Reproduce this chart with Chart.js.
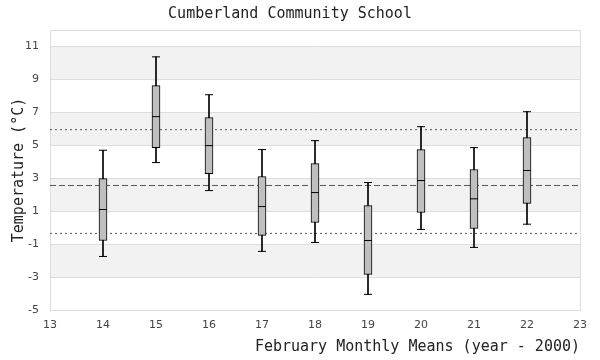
<!DOCTYPE html>
<html>
<head>
<meta charset="utf-8">
<script src="https://cdn.jsdelivr.net/npm/chart.js@4/dist/chart.umd.min.js"></script>
<style>
  html, body { margin: 0; padding: 0; background: #fff; }
  #wrap { width: 600px; height: 360px; }
</style>
</head>
<body>
<div id="wrap"><canvas id="c" width="600" height="360"></canvas></div>
<script>
// ---- data ----
const years       = [14, 15, 16, 17, 18, 19, 20, 21, 22];
const whiskerLow  = [-1.75, 3.95, 2.25, -1.44, -0.90, -4.05, -0.11, -1.20, 0.21];
const q1          = [-0.78, 4.86, 3.28, -0.47, 0.31, -2.84, 0.92, -0.05, 1.47];
const median      = [1.10, 6.74, 4.98, 1.28, 2.13, -0.78, 2.86, 1.75, 3.47];
const q3          = [2.98, 8.62, 6.68, 3.10, 3.89, 1.34, 4.74, 3.53, 5.47];
const whiskerHigh = [4.70, 10.37, 8.07, 4.74, 5.28, 2.74, 6.13, 4.86, 7.04];
const overallMean = 2.56;
const upperBound  = 5.95;
const lowerBound  = -0.35;
const xTicks = [13, 14, 15, 16, 17, 18, 19, 20, 21, 22, 23];
const yTicks = [-5, -3, -1, 1, 3, 5, 7, 9, 11];
const shadedBands = [[9, 11], [5, 7], [1, 3], [-3, -1]];
const xRange = [13, 23];
const yRange = [-5, 12];

const MONO = '"DejaVu Sans Mono", monospace';
const SANS = '"DejaVu Sans", sans-serif';

const bandPlugin = {
  id: 'bands',
  beforeDraw(chart) {
    const { ctx, chartArea: a, scales: { y } } = chart;
    ctx.save();
    ctx.fillStyle = '#f2f2f2';
    shadedBands.forEach(([lo, hi]) => {
      const top = y.getPixelForValue(hi);
      const bot = y.getPixelForValue(lo);
      ctx.fillRect(a.left, top, a.right - a.left, bot - top);
    });
    ctx.restore();
  }
};

const hline = (v, dash) => ({
  type: 'line',
  data: xRange.map(x => ({ x, y: v })),
  borderColor: '#555',
  borderWidth: 1,
  borderDash: dash,
  pointRadius: 0,
  fill: false,
  order: 5
});

new Chart(document.getElementById('c'), {
  type: 'bar',
  data: {
    datasets: [
      hline(overallMean, [6, 3]),
      hline(upperBound, [2, 3]),
      hline(lowerBound, [2, 3]),
      {
        type: 'bar',
        data: years.map((x, i) => ({ x, y: [whiskerLow[i], whiskerHigh[i]] })),
        backgroundColor: '#000',
        borderWidth: 0,
        barThickness: 1,
        grouped: false,
        order: 4
      },
      {
        type: 'scatter',
        data: years.flatMap((x, i) => [{ x, y: whiskerLow[i] }, { x, y: whiskerHigh[i] }]),
        pointStyle: 'line',
        pointRadius: 4,
        borderColor: '#000',
        borderWidth: 1,
        order: 3
      },
      {
        type: 'bar',
        data: years.map((x, i) => ({ x, y: [q1[i], q3[i]] })),
        backgroundColor: '#bfbfbf',
        borderColor: '#000',
        borderWidth: 1,
        borderSkipped: false,
        barThickness: 8,
        grouped: false,
        order: 2
      },
      {
        type: 'scatter',
        data: years.map((x, i) => ({ x, y: median[i] })),
        pointStyle: 'line',
        pointRadius: 4,
        borderColor: '#000',
        borderWidth: 1,
        order: 1
      }
    ]
  },
  options: {
    responsive: false,
    animation: false,
    layout: { padding: { left: 0, right: 20, top: 0, bottom: 0 } },
    plugins: {
      legend: { display: false },
      tooltip: { enabled: false },
      title: {
        display: true,
        text: 'Cumberland Community School',
        color: '#222',
        font: { family: MONO, size: 15, weight: 'normal', lineHeight: 1.2 },
        padding: { top: 5, bottom: 7 }
      }
    },
    scales: {
      x: {
        type: 'linear',
        offset: false,
        min: xRange[0],
        max: xRange[1],
        afterBuildTicks: s => { s.ticks = xTicks.map(v => ({ value: v })); },
        afterFit: s => { s.height = 50; },
        grid: {
          offset: false,
          drawTicks: false,
          color: c => (c.tick && c.tick.value === xRange[1]) ? '#ddd' : 'rgba(0,0,0,0)'
        },
        border: { display: true, color: '#ddd' },
        ticks: { color: '#444', font: { family: SANS, size: 11 }, padding: 9, maxRotation: 0 },
        title: {
          display: true,
          text: 'February Monthly Means (year - 2000)',
          align: 'end',
          color: '#222',
          font: { family: MONO, size: 15, weight: 'normal', lineHeight: 1.2 },
          padding: { top: 4, bottom: 4 }
        }
      },
      y: {
        type: 'linear',
        min: yRange[0],
        max: yRange[1],
        afterBuildTicks: s => { s.ticks = yTicks.concat([yRange[1]]).map(v => ({ value: v })); },
        afterFit: s => { s.width = 50; },
        grid: { drawTicks: false, color: '#ddd' },
        border: { display: true, color: '#ddd' },
        ticks: {
          color: '#444',
          font: { family: SANS, size: 11 },
          padding: 11,
          callback: v => (v === yRange[1] ? '' : v)
        },
        title: {
          display: true,
          text: 'Temperature (°C)',
          color: '#222',
          font: { family: MONO, size: 15, weight: 'normal', lineHeight: 1.2 },
          padding: { top: 10, bottom: 0 }
        }
      }
    }
  },
  plugins: [bandPlugin]
});
</script>
</body>
</html>
